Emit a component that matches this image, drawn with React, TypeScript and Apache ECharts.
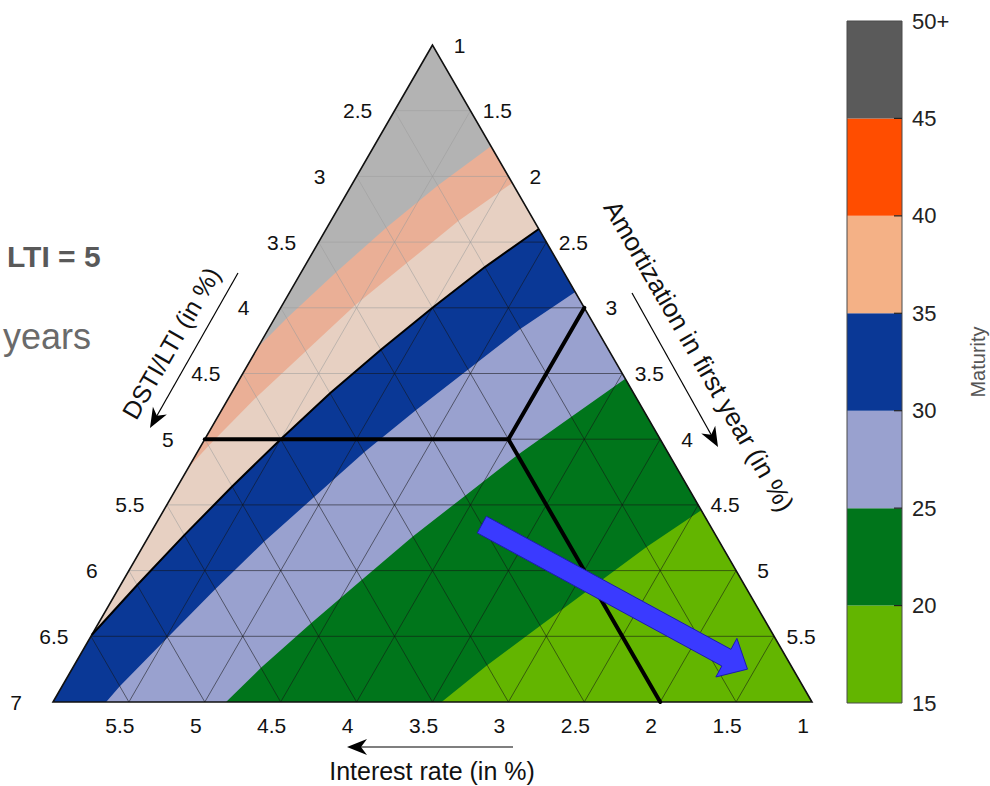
import React, { useEffect, useRef } from 'react';
import * as echarts from 'echarts';

// ---- data ----
// Points are [interest rate %, amortization in first year %]; DSTI/LTI = interest + amortization
const apexPoint = [1, 1];
const bottomLeftPoint = [6, 1];
const bottomRightPoint = [1, 6];

const maturityBreaks = [15, 20, 25, 30, 35, 40, 45, 50];
const maturityTickLabels = ['15', '20', '25', '30', '35', '40', '45', '50+'];
const maturityColors = ['#63b500', '#00751b', '#99a1cf', '#0a3896', '#f4b186', '#ff4d00', '#5a5a5a'];

// band boundaries (iso-maturity curves), from right edge towards left/bottom edge
const curve45 = [[1, 1.77], [1.5, 1.57], [2, 1.39], [2.5, 1.23], [3, 1.08], [3.3, 1.0]];
const curve40 = [[1, 2.05], [1.5, 1.84], [2, 1.66], [2.5, 1.48], [3, 1.33], [3.5, 1.18], [4, 1.05], [4.22, 1.0]];
const curve35 = [[1, 2.4], [1.5, 2.19], [2, 2.0], [2.5, 1.82], [3, 1.65], [3.5, 1.5], [4, 1.36], [4.5, 1.23], [5, 1.11], [5.49, 1.0]];
const curve30 = [[1, 2.88], [1.5, 2.66], [2, 2.47], [2.5, 2.28], [3, 2.1], [3.5, 1.94], [4, 1.78], [4.5, 1.64], [5, 1.51], [5.5, 1.38], [5.65, 1.35]];
const curve25 = [[1, 3.54], [1.5, 3.33], [2, 3.12], [2.5, 2.93], [3, 2.74], [3.5, 2.57], [4, 2.4], [4.5, 2.24], [4.86, 2.14]];
const curve20 = [[1, 4.54], [1.5, 4.32], [2, 4.12], [2.5, 3.92], [3, 3.72], [3.44, 3.56]];

const dstiTicks = [2.5, 3, 3.5, 4, 4.5, 5, 5.5, 6, 6.5, 7];
const amortizationTicks = [1, 1.5, 2, 2.5, 3, 3.5, 4, 4.5, 5, 5.5];
const interestTicks = [1, 1.5, 2, 2.5, 3, 3.5, 4, 4.5, 5, 5.5];
const gridDsti = [2.5, 3, 3.5, 4, 4.5, 5, 5.5, 6, 6.5];
const gridAmortization = [1.5, 2, 2.5, 3, 3.5, 4, 4.5, 5, 5.5];
const gridInterest = [1.5, 2, 2.5, 3, 3.5, 4, 4.5, 5, 5.5];

const policyInterest = 2;
const policyAmortization = 3;
const policyDsti = 5;

const arrowFrom = [2.5, 3.15];
const arrowTo = [1.3, 5.45];

// ---- helpers ----
const FONT = 'Liberation Sans, Arial, Helvetica, sans-serif';
const toXY = (p: number[]) => [p[1] - p[0], p[0] + p[1]];

function regionBelow(curve: number[][]) {
  const pts = curve.slice();
  const last = curve[curve.length - 1];
  if (last[1] <= 1.0001) pts.push(bottomLeftPoint);
  pts.push(bottomRightPoint);
  return pts;
}

const fills = [
  { points: [apexPoint, bottomLeftPoint, bottomRightPoint], color: maturityColors[6] },
  { points: regionBelow(curve45), color: maturityColors[5] },
  { points: regionBelow(curve40), color: maturityColors[4] },
  { points: regionBelow(curve35), color: maturityColors[3] },
  { points: regionBelow(curve30), color: maturityColors[2] },
  { points: regionBelow(curve25), color: maturityColors[1] },
  { points: regionBelow(curve20), color: maturityColors[0] },
];

const gridLines: number[][][] = [
  ...gridDsti.map((d) => [[d - 1, 1], [1, d - 1]]),
  ...gridAmortization.map((a) => [[1, a], [7 - a, a]]),
  ...gridInterest.map((i) => [[i, 1], [i, 7 - i]]),
];

const policyLines = [
  [[policyDsti - 1, 1], [policyInterest, policyAmortization]],
  [[policyInterest, policyAmortization], [1, policyAmortization]],
  [[policyInterest, policyAmortization], [policyInterest, 7 - policyInterest]],
];

type TickLabel = { p: number[]; text: string; dx: number; dy: number };
const tickLabels: TickLabel[] = [
  ...dstiTicks.map((d) => ({ p: [d - 1, 1], text: String(d), dx: -37, dy: 0 })),
  ...amortizationTicks.map((a) => ({ p: [1, a], text: String(a), dx: 27, dy: 0 })),
  ...interestTicks.map((i) => ({ p: [i, 7 - i], text: String(i), dx: -9, dy: 23 })),
];

function arrowHead(tx: number, ty: number, fx: number, fy: number, L = 20, H = 8) {
  const len = Math.hypot(tx - fx, ty - fy);
  const ux = (tx - fx) / len, uy = (ty - fy) / len;
  const nx = -uy, ny = ux;
  return [
    [tx, ty],
    [tx - L * ux + H * nx, ty - L * uy + H * ny],
    [tx - 0.7 * L * ux, ty - 0.7 * L * uy],
    [tx - L * ux - H * nx, ty - L * uy - H * ny],
  ];
}

function titleArrow(fx: number, fy: number, tx: number, ty: number) {
  const len = Math.hypot(tx - fx, ty - fy);
  const ux = (tx - fx) / len, uy = (ty - fy) / len;
  return [
    { type: 'line', shape: { x1: fx, y1: fy, x2: tx - 12 * ux, y2: ty - 12 * uy }, style: { stroke: '#000', lineWidth: 1.2 } },
    { type: 'polygon', shape: { points: arrowHead(tx, ty, fx, fy) }, style: { fill: '#000' } },
  ];
}

function textStyle(text: string, size: number, color: string, weight = 'normal', align = 'center', valign = 'middle') {
  return {
    text,
    fill: color,
    fontSize: size,
    fontFamily: FONT,
    fontWeight: weight,
    align,
    verticalAlign: valign,
    textAlign: align,
    textVerticalAlign: valign,
  };
}

export default function App() {
  const ref = useRef<HTMLDivElement>(null);
  useEffect(() => {
    const chart = echarts.init(ref.current!, null, { renderer: 'svg' });
    const dummy = (n: number) => Array.from({ length: n }, (_, k) => [0, 4, k]);
    const option: any = {
      animation: false,
      backgroundColor: '#fff',
      grid: [
        { left: 53, top: 45, width: 759, height: 657, show: false },
        { left: 847, top: 21, width: 55, height: 682, show: false },
      ],
      xAxis: [
        { gridIndex: 0, type: 'value', min: -5, max: 5, show: false },
        { gridIndex: 1, type: 'value', min: 0, max: 1, show: false },
      ],
      yAxis: [
        { gridIndex: 0, type: 'value', min: 2, max: 7, inverse: true, show: false },
        {
          gridIndex: 1, type: 'value', min: 15, max: 50, interval: 5, position: 'right',
          axisLine: { show: false },
          axisTick: { show: false },
          splitLine: { show: false },
          axisLabel: {
            formatter: (v: number) => {
              const k = maturityBreaks.indexOf(v);
              return k >= 0 ? maturityTickLabels[k] : '';
            },
            fontSize: 22, color: '#222', margin: 10, fontFamily: FONT,
          },
        },
      ],
      series: [
        {
          type: 'custom', xAxisIndex: 0, yAxisIndex: 0, z: 1, silent: true,
          data: dummy(fills.length),
          renderItem: (params: any, api: any) => {
            const f = fills[params.dataIndex];
            return { type: 'polygon', shape: { points: f.points.map((p) => api.coord(toXY(p))) }, style: { fill: f.color } };
          },
        },
        {
          type: 'custom', xAxisIndex: 0, yAxisIndex: 0, z: 2, silent: true,
          data: dummy(gridLines.length),
          renderItem: (params: any, api: any) => {
            const l = gridLines[params.dataIndex];
            const a = api.coord(toXY(l[0]));
            const b = api.coord(toXY(l[1]));
            return { type: 'line', shape: { x1: a[0], y1: a[1], x2: b[0], y2: b[1] }, style: { stroke: 'rgba(20,20,20,0.55)', lineWidth: 1 } };
          },
        },
        {
          type: 'custom', xAxisIndex: 0, yAxisIndex: 0, z: 3, silent: true,
          data: dummy(1),
          renderItem: (params: any, api: any) => ({
            type: 'polygon',
            shape: { points: [apexPoint, ...curve35].map((p) => api.coord(toXY(p))) },
            style: { fill: 'rgba(224,224,224,0.67)' },
          }),
        },
        {
          type: 'custom', xAxisIndex: 0, yAxisIndex: 0, z: 4, silent: true,
          data: dummy(1),
          renderItem: (params: any, api: any) => ({
            type: 'group',
            children: [
              { type: 'polygon', shape: { points: [apexPoint, bottomLeftPoint, bottomRightPoint].map((p) => api.coord(toXY(p))) }, style: { fill: 'none', stroke: '#111', lineWidth: 1.6 } },
              { type: 'polyline', shape: { points: curve35.map((p) => api.coord(toXY(p))) }, style: { fill: 'none', stroke: '#000', lineWidth: 2 } },
              ...policyLines.map((l) => {
                const a = api.coord(toXY(l[0]));
                const b = api.coord(toXY(l[1]));
                return { type: 'line', shape: { x1: a[0], y1: a[1], x2: b[0], y2: b[1] }, style: { stroke: '#000', lineWidth: 4, lineCap: 'round' } };
              }),
            ],
          }),
        },
        {
          type: 'custom', xAxisIndex: 0, yAxisIndex: 0, z: 5, silent: true,
          data: dummy(1),
          renderItem: (params: any, api: any) => {
            const s = api.coord(toXY(arrowFrom));
            const t = api.coord(toXY(arrowTo));
            const len = Math.hypot(t[0] - s[0], t[1] - s[1]);
            const ux = (t[0] - s[0]) / len, uy = (t[1] - s[1]) / len;
            const nx = -uy, ny = ux;
            const w = 9.5, hw = 22, hl = 24;
            const bx = t[0] - hl * ux, by = t[1] - hl * uy;
            const pts = [
              [s[0] + w * nx, s[1] + w * ny],
              [bx + w * nx, by + w * ny],
              [bx + hw * nx, by + hw * ny],
              [t[0], t[1]],
              [bx - hw * nx, by - hw * ny],
              [bx - w * nx, by - w * ny],
              [s[0] - w * nx, s[1] - w * ny],
            ];
            return { type: 'polygon', shape: { points: pts }, style: { fill: '#3a3aff', stroke: '#1c1caa', lineWidth: 1 } };
          },
        },
        {
          type: 'custom', xAxisIndex: 0, yAxisIndex: 0, z: 6, silent: true,
          data: dummy(tickLabels.length),
          renderItem: (params: any, api: any) => {
            const t = tickLabels[params.dataIndex];
            const c = api.coord(toXY(t.p));
            return { type: 'text', x: c[0] + t.dx, y: c[1] + t.dy, style: textStyle(t.text, 21, '#111') };
          },
        },
        {
          type: 'custom', xAxisIndex: 1, yAxisIndex: 1, z: 2, silent: true,
          data: maturityColors.map((_, k) => [0.5, maturityBreaks[k], k]),
          renderItem: (params: any, api: any) => {
            const k = params.dataIndex;
            const a = api.coord([0, maturityBreaks[k + 1]]);
            const b = api.coord([1, maturityBreaks[k]]);
            return { type: 'rect', shape: { x: a[0], y: a[1], width: b[0] - a[0], height: b[1] - a[1] }, style: { fill: maturityColors[k] } };
          },
        },
        {
          type: 'custom', xAxisIndex: 1, yAxisIndex: 1, z: 3, silent: true,
          data: [[0.5, 30]],
          renderItem: (params: any, api: any) => {
            const a = api.coord([0, 50]);
            const b = api.coord([1, 15]);
            const ticks = maturityBreaks.slice(1, -1).map((v) => {
              const c = api.coord([1, v]);
              return { type: 'line', shape: { x1: c[0] - 8, y1: c[1], x2: c[0], y2: c[1] }, style: { stroke: '#222', lineWidth: 1.2 } };
            });
            return {
              type: 'group',
              children: [
                { type: 'rect', shape: { x: a[0], y: a[1], width: b[0] - a[0], height: b[1] - a[1] }, style: { fill: 'none', stroke: '#4a4a4a', lineWidth: 1 } },
                ...ticks,
              ],
            };
          },
        },
      ],
      graphic: [
        { type: 'text', x: 7, y: 256, style: textStyle('LTI = 5', 30, '#595959', 'bold', 'left') },
        { type: 'text', x: 3, y: 336, style: textStyle('years', 36, '#6a6a6a', 'normal', 'left') },
        { type: 'text', x: 171, y: 343, rotation: Math.PI / 3, style: textStyle('DSTI/LTI (in %)', 25, '#111') },
        ...titleArrow(238, 273, 150, 428),
        { type: 'text', x: 699, y: 356, rotation: -Math.PI / 3, style: textStyle('Amortization in first year (in %)', 26, '#111') },
        ...titleArrow(632, 293, 718, 447),
        { type: 'text', x: 432, y: 771, style: textStyle('Interest rate (in %)', 25, '#111') },
        ...titleArrow(513, 747, 347, 747),
        { type: 'text', x: 320, y: 383, rotation: 0.7, style: textStyle('maturity constraint', 17, '#111') },
        { type: 'text', x: 978, y: 362, rotation: Math.PI / 2, style: textStyle('Maturity', 20, '#555') },
      ],
    };
    chart.setOption(option);
    return () => chart.dispose();
  }, []);
  return <div ref={ref} style={{ position: 'absolute', left: 0, top: 0, width: 990, height: 786 }} />;
}
